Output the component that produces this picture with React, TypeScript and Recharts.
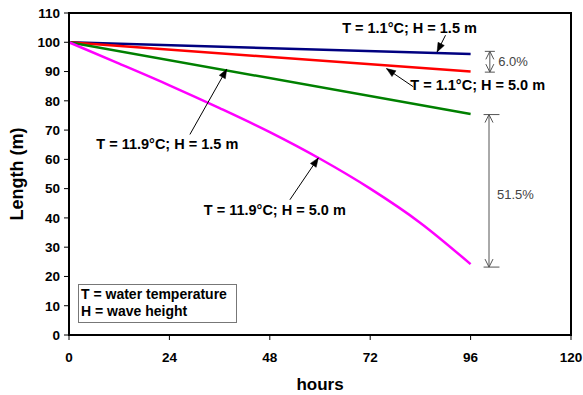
import { LineChart, Line, XAxis, YAxis, ReferenceLine, ReferenceDot, ReferenceArea } from 'recharts';

const FONT = '"Liberation Sans", Arial, sans-serif';

const hourTicks = [0, 24, 48, 72, 96, 120];
const lengthTicks = [0, 10, 20, 30, 40, 50, 60, 70, 80, 90, 100, 110];

const straightHours = [0, 96];
const coldCalm = [100, 96]; // T = 1.1°C, H = 1.5 m
const coldRough = [100, 90]; // T = 1.1°C, H = 5.0 m
const warmCalm = [100, 75.5]; // T = 11.9°C, H = 1.5 m

// the warm/rough run bends, read every 12 h
const curveHours = [0, 12, 24, 36, 48, 60, 72, 84, 96];
const warmRough = [100, 92.7, 85.3, 77.5, 69.3, 60.2, 50, 38.3, 24.2];

const toRows = (hours: number[], vals: number[]) => hours.map((h, i) => ({ h, v: vals[i] }));

// callouts: label centre, arrow tail, arrow tip (hours, metres)
const calloutText = ['T = 1.1°C; H = 1.5 m', 'T = 1.1°C; H = 5.0 m', 'T = 11.9°C; H = 1.5 m', 'T = 11.9°C; H = 5.0 m'];
const calloutAt = [[81.4, 105.0], [97.7, 85.3], [23.5, 65.1], [49.2, 42.8]];
const calloutFrom = [[90.0, 102.4], [82.3, 84.8], [28.9, 68.5], [52.8, 46.2]];
const calloutTo = [[88.0, 96.7], [75.9, 91.0], [37.7, 90.8], [59.6, 60.5]];

// percentage spans at the right-hand end
const spanText = ['6.0%', '51.5%'];
const spanX = [100.6, 100.4];
const spanTop = [96.9, 75.3];
const spanBottom = [89.8, 23.2];
const spanCap = [[99.4, 101.8], [99.1, 102.9]];
const spanTextAt = [[102.6, 93.3], [102.3, 47.9]];

function arrowShape(kind: 'solid' | 'open', color: string, bothEnds: boolean) {
  return (p: any) => {
    const { x1, y1, x2, y2 } = p;
    const head = (tx: number, ty: number, fx: number, fy: number, key: string) => {
      const a = Math.atan2(ty - fy, tx - fx);
      const len = kind === 'solid' ? 9 : 8;
      const w = kind === 'solid' ? 3.5 : 4;
      const bx = tx - len * Math.cos(a);
      const by = ty - len * Math.sin(a);
      const lx = bx + w * Math.sin(a);
      const ly = by - w * Math.cos(a);
      const rx = bx - w * Math.sin(a);
      const ry = by + w * Math.cos(a);
      return kind === 'solid' ? (
        <polygon key={key} points={`${lx},${ly} ${tx},${ty} ${rx},${ry}`} fill={color} stroke={color} strokeWidth={0.5} />
      ) : (
        <polyline key={key} points={`${lx},${ly} ${tx},${ty} ${rx},${ry}`} fill="none" stroke={color} strokeWidth={1} />
      );
    };
    return (
      <g>
        <line x1={x1} y1={y1} x2={x2} y2={y2} stroke={color} strokeWidth={1} />
        {head(x2, y2, x1, y1, 'a')}
        {bothEnds && head(x1, y1, x2, y2, 'b')}
      </g>
    );
  };
}

function textShape(text: string, anchor: 'middle' | 'start', bold: boolean, color: string, size: number) {
  return (p: any) => (
    <text
      x={p.cx}
      y={p.cy}
      textAnchor={anchor}
      dominantBaseline="central"
      fill={color}
      fontSize={size}
      fontWeight={bold ? 'bold' : 'normal'}
      fontFamily={FONT}
    >
      {text}
    </text>
  );
}

export default function App() {
  const tick = { fill: '#000', fontSize: 13.5, fontWeight: 'bold', fontFamily: FONT };
  return (
    <div style={{ position: 'absolute', left: 0, top: 0, width: 583, height: 395, background: '#fff' }}>
      <LineChart width={583} height={395} margin={{ top: 13, right: 12, left: 0, bottom: 0 }}>
        <XAxis
          type="number"
          dataKey="h"
          domain={[0, 120]}
          ticks={hourTicks}
          allowDataOverflow
          tick={tick}
          tickSize={5}
          tickMargin={12}
          height={60}
          axisLine={{ stroke: '#000', strokeWidth: 2 }}
          tickLine={{ stroke: '#000' }}
          label={{ value: 'hours', position: 'insideBottom', offset: 5, fill: '#000', fontSize: 17, fontWeight: 'bold', fontFamily: FONT }}
        />
        <YAxis
          type="number"
          domain={[0, 110]}
          ticks={lengthTicks}
          allowDataOverflow
          tick={tick}
          tickSize={5}
          tickMargin={4}
          width={69}
          axisLine={{ stroke: '#000', strokeWidth: 2 }}
          tickLine={{ stroke: '#000' }}
          label={{
            value: 'Length (m)',
            angle: -90,
            position: 'insideLeft',
            offset: 17,
            fill: '#000',
            fontSize: 18,
            fontWeight: 'bold',
            fontFamily: FONT,
            style: { textAnchor: 'middle' },
          }}
        />
        <ReferenceArea x1={0} x2={120} y1={0} y2={110} fill="none" stroke="#000" strokeWidth={2} />

        <Line data={toRows(straightHours, coldCalm)} dataKey="v" stroke="#000080" strokeWidth={2.5} dot={false} isAnimationActive={false} />
        <Line data={toRows(straightHours, coldRough)} dataKey="v" stroke="#ff0000" strokeWidth={2.5} dot={false} isAnimationActive={false} />
        <Line data={toRows(straightHours, warmCalm)} dataKey="v" stroke="#008000" strokeWidth={2.5} dot={false} isAnimationActive={false} />
        <Line data={toRows(curveHours, warmRough)} dataKey="v" type="monotone" stroke="#ff00ff" strokeWidth={2.5} dot={false} isAnimationActive={false} />

        {calloutText.map((t, i) => (
          <ReferenceLine
            key={`arrow-${i}`}
            segment={[{ x: calloutFrom[i][0], y: calloutFrom[i][1] }, { x: calloutTo[i][0], y: calloutTo[i][1] }]}
            shape={arrowShape('solid', '#000', false)}
          />
        ))}
        {calloutText.map((t, i) => (
          <ReferenceDot key={`label-${i}`} x={calloutAt[i][0]} y={calloutAt[i][1]} r={1} shape={textShape(t, 'middle', true, '#000', 14.5)} />
        ))}

        {spanText.map((t, i) => (
          <ReferenceLine
            key={`span-${i}`}
            segment={[{ x: spanX[i], y: spanTop[i] }, { x: spanX[i], y: spanBottom[i] }]}
            shape={arrowShape('open', '#555', true)}
          />
        ))}
        {spanText.map((t, i) => (
          <ReferenceLine key={`capt-${i}`} segment={[{ x: spanCap[i][0], y: spanTop[i] }, { x: spanCap[i][1], y: spanTop[i] }]} stroke="#555" strokeWidth={1} />
        ))}
        {spanText.map((t, i) => (
          <ReferenceLine key={`capb-${i}`} segment={[{ x: spanCap[i][0], y: spanBottom[i] }, { x: spanCap[i][1], y: spanBottom[i] }]} stroke="#555" strokeWidth={1} />
        ))}
        {spanText.map((t, i) => (
          <ReferenceDot key={`spanlabel-${i}`} x={spanTextAt[i][0]} y={spanTextAt[i][1]} r={1} shape={textShape(t, 'start', false, '#444', 13)} />
        ))}
      </LineChart>
      <div
        style={{
          position: 'absolute',
          left: 78,
          top: 284,
          width: 155,
          height: 36,
          border: '1px solid #777',
          background: '#fff',
          fontFamily: FONT,
          fontWeight: 'bold',
          fontSize: 14,
          lineHeight: '17px',
          paddingLeft: 2,
          paddingTop: 1,
          boxSizing: 'content-box',
          color: '#000',
        }}
      >
        <div>T = water temperature</div>
        <div>H = wave height</div>
      </div>
    </div>
  );
}
